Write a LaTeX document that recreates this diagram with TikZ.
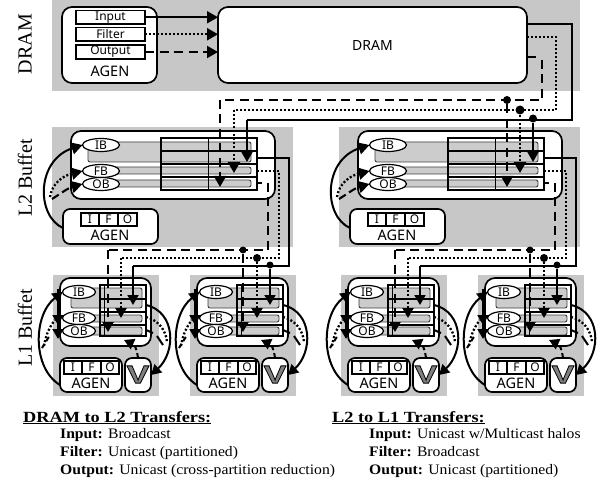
\documentclass[tikz,border=0pt]{standalone}
\usepackage{fontspec}
\setmainfont[FakeStretch=1.08]{Liberation Serif}
\newfontfamily\sidef{Liberation Serif}
\newfontfamily\lab{Noto Sans}
\newfontfamily\headf[FakeStretch=1.18]{Liberation Serif Bold}
\newfontfamily\vfont[FakeBold=3.2,FakeStretch=1.35]{Liberation Sans Bold}
\usetikzlibrary{arrows.meta,shapes.geometric}
\definecolor{panel}{gray}{0.78}
\definecolor{bar}{gray}{0.80}
\tikzset{
 panelbox/.style={fill=panel,draw=none,inner sep=0,outer sep=0},
 blockbox/.style={draw,fill=white,line width=1.7pt,rounded corners=7pt,inner sep=0,outer sep=0},
 slot/.style={draw,fill=white,line width=1.1pt,inner sep=0,outer sep=0,font=\lab\fontsize{12}{12}\selectfont},
 barbox/.style={draw=black!75,fill=bar,line width=.9pt,rounded corners=2pt,inner sep=0,outer sep=0},
 bufell/.style={ellipse,draw,fill=white,line width=1.2pt,inner sep=0,outer sep=0,font=\lab\fontsize{12}{12}\selectfont},
 solidw/.style={line width=2pt},
 dotw/.style={line width=2.3pt,dash pattern=on 2pt off 2pt},
 dashw/.style={line width=2.1pt,dash pattern=on 9pt off 5.5pt},
 bighead/.style={-{Triangle[length=11pt,width=12pt]}},
 midhead/.style={-{Triangle[length=10pt,width=11pt]}},
 dotmark/.style={circle,fill=black,inner sep=0,minimum size=8pt},
 gridline/.style={line width=1.3pt},
 agenlabel/.style={font=\lab\fontsize{14.5}{14.5}\selectfont},
 sidelabel/.style={rotate=90,font=\sidef\fontsize{20}{20}\selectfont},
 notehead/.style={anchor=base west,inner sep=0,font=\headf\fontsize{15.5}{15.5}\selectfont},
 noteline/.style={anchor=base west,inner sep=0,font=\fontsize{14.5}{14.5}\selectfont},
}
% name x0 y0 x1 y1 style text
\newcommand\bx[7]{%
 \pgfmathsetmacro\bw{#4-(#2)}\pgfmathsetmacro\bh{#5-(#3)}%
 \pgfmathsetmacro\cxx{(#2+#4)/2}\pgfmathsetmacro\cyy{(#3+#5)/2}%
 \node[#6,minimum width=\bw pt,minimum height=\bh pt] (#1) at (\cxx,\cyy) {#7};}
% L2 block, prefix #1, dx #2
\newcommand\LtwoBlock[2]{%
\begin{scope}[xshift=#2pt]
 \bx{#1panel}{52}{127}{293}{247}{panelbox}{}
 \bx{#1blk}{71}{131}{275}{199}{blockbox,rounded corners=10pt}{}
 \bx{#1barI}{88}{142}{251}{162}{barbox}{}
 \bx{#1barF}{115}{167}{251}{174}{barbox}{}
 \bx{#1barO}{115}{180}{251}{187}{barbox}{}
 \bx{#1grid}{161}{138}{257}{190}{draw,line width=1.3pt,inner sep=0}{}
 \draw[gridline] (#1grid.north west)+(48,0) coordinate (#1gt) -- (#1gt |- #1grid.south);
 \foreach \yy in {151,164,177}{\draw[gridline] (#1grid.west |- 0,\yy) -- (#1grid.east |- 0,\yy);}
 \node[bufell,minimum width=37pt,minimum height=13pt] (#1ib) at (101,145) {IB};
 \node[bufell,minimum width=37pt,minimum height=13pt] (#1fb) at (101,171) {FB};
 \node[bufell,minimum width=37pt,minimum height=13pt] (#1ob) at (101,184) {OB};
 \bx{#1ag}{63}{209}{158}{244}{blockbox}{}
 \node[agenlabel] (#1agt) at (110,235) {AGEN};
 \bx{#1i}{81}{213}{99}{226}{slot}{I}
 \bx{#1f}{99}{213}{118}{226}{slot}{F}
 \bx{#1o}{118}{213}{137}{226}{slot}{O}
 \coordinate (#1fbs) at (50,197);
 \coordinate (#1obs) at (52,199);
 \draw[solidw,bighead] (#1ag.west |- 0,228) .. controls (36,216) and (36,160) .. (#1ib.west);
 \draw[dotw,bighead] (#1fbs) .. controls (52,184) and (62,176) .. (#1fb.west);
 \draw[dashw,dash pattern=on 8pt off 4pt,bighead] (#1obs) .. controls (60,194) and (68,188) .. (#1ob.west);
\end{scope}}
% L1 block
\newcommand\LoneBlock[2]{%
\begin{scope}[xshift=#2pt]
 \bx{#1panel}{53}{275}{159}{396}{panelbox}{}
 \bx{#1blk}{60}{278}{151}{346}{blockbox,rounded corners=10pt}{}
 \bx{#1barI}{71}{288}{142}{308}{barbox}{}
 \bx{#1barF}{85}{315}{142}{322}{barbox}{}
 \bx{#1barO}{85}{327}{142}{335}{barbox}{}
 \bx{#1grid}{100}{285}{146}{336}{draw,line width=1.3pt,inner sep=0}{}
 \draw[gridline] (#1grid.north west)+(5,0) coordinate (#1gt) -- (#1gt |- #1grid.south);
 \foreach \yy in {299,312,325}{\draw[gridline] (#1grid.west |- 0,\yy) -- (#1grid.east |- 0,\yy);}
 \node[bufell,minimum width=33pt,minimum height=13pt] (#1ib) at (79,292) {IB};
 \node[bufell,minimum width=33pt,minimum height=13pt] (#1fb) at (79,318) {FB};
 \node[bufell,minimum width=33pt,minimum height=13pt] (#1ob) at (79,331) {OB};
 \bx{#1ag}{60}{358}{122}{392}{blockbox}{}
 \node[agenlabel] (#1agt) at (91,383) {AGEN};
 \bx{#1i}{64}{361}{82}{374}{slot}{I}
 \bx{#1f}{82}{361}{101}{374}{slot}{F}
 \bx{#1o}{101}{361}{119}{374}{slot}{O}
 \bx{#1v}{125}{358}{151}{392}{blockbox}{}
 \node[text=black!50] (#1vt) at (138,374.5) {\special{pdf:code 0 0 0 RG}\vfont\fontsize{25}{25}\selectfont V};
 % left loops
 \draw[solidw,midhead] (#1ag.west |- 0,385) .. controls (32,368) and (33,315) .. (#1ib.west);
 \draw[solidw,midhead] (58,289) -- (58,325);
 \draw[dotw] (44,346) .. controls (46,334) and (50,326) .. (55,320);
 \draw[line width=2pt,dash pattern=on 5pt off 3pt] (42,348) -- (50,335);
 \draw[solidw,midhead] (58,322) -- (58,339);
 % right loops
 \coordinate (#1rs) at (146,305);
 \coordinate (#1rd) at (146,317);
 \coordinate (#1rp) at (146,330);
 \draw[solidw,midhead] (#1rs) .. controls (176,312) and (176,352) .. (#1v.east |- 0,375);
 \draw[dotw] (#1rd) .. controls (158,320) and (166,330) .. (167,342);
 \draw[solidw] (#1rp) -- (153,333);
 \draw[solidw] (157,336) -- (163,345);
 % V feedback
 \draw[solidw,dash pattern=on 5pt off 3pt,midhead] (#1v.north) .. controls (137,350) and (135,345) .. (124,340);
\end{scope}}
\begin{document}
\begin{tikzpicture}[x=1pt,y=-1pt]
\useasboundingbox (0,0) rectangle (597,481);
% side labels
\node[sidelabel] (sd) at (25,44) {DRAM};
\node[sidelabel] (s2) at (25,178) {L2 Buffet};
\node[sidelabel] (s1) at (25,328) {L1 Buffet};
% DRAM panel
\bx{dpanel}{52}{0}{580}{91}{panelbox}{}
\bx{dag}{62}{7}{157}{83}{blockbox,rounded corners=10pt}{}
\bx{din}{76}{10.5}{145}{24}{slot}{Input}
\bx{dfi}{76}{27.5}{145}{41}{slot}{Filter}
\bx{dou}{76}{45}{145}{59}{slot}{Output}
\node[agenlabel] (dagt) at (110,71) {AGEN};
\bx{dram}{218}{7}{527}{83}{blockbox,rounded corners=10pt,font=\lab\fontsize{14}{14}\selectfont}{DRAM}
\draw[solidw,bighead] (din.east) -- (din.east -| dram.west);
\draw[dotw,bighead] (dfi.east) -- (dfi.east -| dram.west);
\draw[dashw,bighead] (dou.east) -- (dou.east -| dram.west);
% L2 blocks
\LtwoBlock{a}{0}
\LtwoBlock{b}{287}
% L1 blocks
\LoneBlock{p}{0}
\LoneBlock{q}{137}
\LoneBlock{r}{288}
\LoneBlock{s}{425}
% DRAM to L2 routes
\coordinate (sd0) at (dram.east |- 0,24);
\coordinate (fd0) at (dram.east |- 0,37);
\coordinate (od0) at (dram.east |- 0,57);
\coordinate (od1) at (536,57);
\coordinate (s1c) at (572,24); \coordinate (s2c) at (572,120); \coordinate (s3c) at (247,120);
\coordinate (f1c) at (556,37); \coordinate (f2c) at (556,110); \coordinate (f3c) at (234,110);
\coordinate (o1c) at (542,60); \coordinate (o2c) at (542,100); \coordinate (o3c) at (220,100);
\node[dotmark] (sj) at (533,118.5) {};
\node[dotmark,minimum size=9pt] (fj) at (520,110) {};
\node[dotmark] (oj) at (507,100) {};
\draw[solidw] (sd0) -- (s1c) -- (s2c) -- (s3c);
\draw[dotw] (fd0) -- (f1c) -- (f2c) -- (f3c);
\draw[solidw] (od0) -- (od1);
\draw[dashw] (o1c) -- (o2c) -- (o3c);
\draw[solidw,bighead] (s3c) -- (247,162);
\draw[dotw,bighead] (f3c) -- (234,173);
\draw[dashw,bighead] (o3c) -- (220,187);
\draw[solidw,bighead] (sj) -- (533,162);
\draw[dotw,bighead] (fj) -- (520,173);
\draw[dashw,bighead] (oj) -- (507,187);
% L2 to L1, two pairs
\foreach \pr/\dx in {a/0,b/287}{
 \begin{scope}[xshift=\dx pt]
 \coordinate (\pr s0) at (257,158); \coordinate (\pr s1) at (289,158); \coordinate (\pr s2) at (289,266);
 \coordinate (\pr f0) at (257,171); \coordinate (\pr f1) at (279,171); \coordinate (\pr f2) at (279,258);
 \coordinate (\pr p0) at (257,183); \coordinate (\pr p1) at (262,183);
 \coordinate (\pr o0) at (268,183); \coordinate (\pr o2) at (268,250);
 \node[dotmark,minimum size=7pt] (\pr sj) at (270,265) {};
 \node[dotmark] (\pr fj) at (257,258) {};
 \node[dotmark,minimum size=7pt] (\pr oj) at (243,250) {};
 \coordinate (\pr s3) at (133,266); \coordinate (\pr f3) at (121,258); \coordinate (\pr o3) at (108,250);
 \draw[solidw] (\pr s0) -- (\pr s1) -- (\pr s2) -- (\pr s3);
 \draw[dotw] (\pr f0) -- (\pr f1) -- (\pr f2) -- (\pr f3);
 \draw[solidw] (\pr p0) -- (\pr p1);
 \draw[dashw] (\pr o0) -- (\pr o2) -- (\pr o3);
 \draw[solidw,midhead] (\pr s3) -- (133,305);
 \draw[dotw,midhead] (\pr f3) -- (121,318);
 \draw[dashw,midhead] (\pr o3) -- (108,332);
 \draw[solidw,midhead] (\pr sj) -- (270,305);
 \draw[dotw,midhead] (\pr fj) -- (257,318);
 \draw[dashw,midhead] (\pr oj) -- (243,332);
 \end{scope}
}
% notes
\node[notehead] (n1) at (23,422) {\underline{DRAM to L2 Transfers:}};
\node[noteline] (n2) at (60,438) {\textbf{Input:} Broadcast};
\node[noteline] (n3) at (60,456.5) {\textbf{Filter:} Unicast (partitioned)};
\node[noteline] (n4) at (60,474) {\textbf{Output:} Unicast (cross-partition reduction)};
\node[notehead] (m1) at (332,422) {\underline{L2 to L1 Transfers:}};
\node[noteline] (m2) at (369,438) {\textbf{Input:} Unicast w/Multicast halos};
\node[noteline] (m3) at (369,456.5) {\textbf{Filter:} Broadcast};
\node[noteline] (m4) at (369,474) {\textbf{Output:} Unicast (partitioned)};
\end{tikzpicture}
\end{document}
